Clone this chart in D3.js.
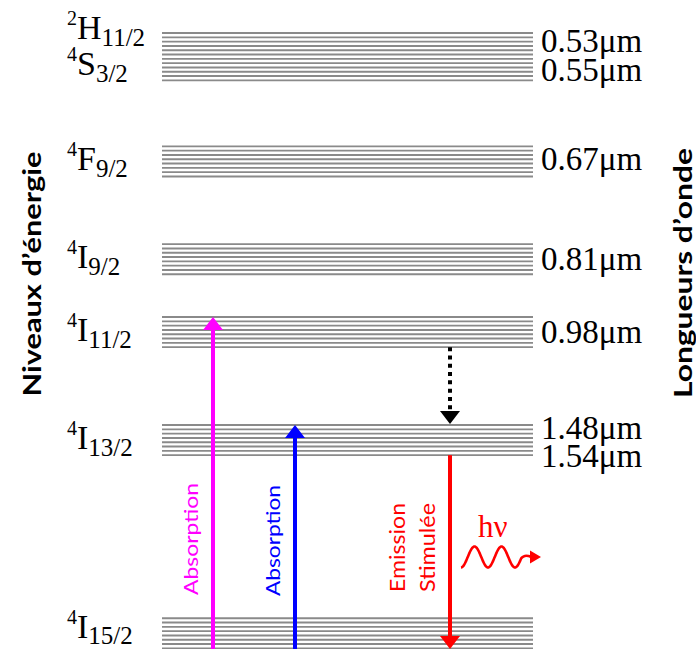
<!DOCTYPE html>
<html>
<head>
<meta charset="utf-8">
<script src="https://cdn.jsdelivr.net/npm/d3@7/dist/d3.min.js"></script>
<style>
  html, body { margin: 0; padding: 0; background: #fff; }
  svg { display: block; }
</style>
</head>
<body>
<svg id="chart" width="696" height="649"></svg>
<script>
// ---------------- DATA ----------------
// Energy levels of Er3+ (estimated energies in cm^-1)
const levelSup    = ["4", "4", "4", "4", "4", "4", "2"];
const levelTerm   = ["I", "I", "I", "I", "F", "S", "H"];
const levelJ      = ["15/2", "13/2", "11/2", "9/2", "9/2", "3/2", "11/2"];
const levelEnergy = [0, 6440, 10040, 12470, 15730, 18790, 19650];
const levelSublevels = [8, 8, 8, 8, 8, 6, 6];

// Wavelength labels (µm) and the level each one belongs to
const wavelengthText  = ["0.53μm", "0.55μm", "0.67μm", "0.81μm", "0.98μm", "1.48μm", "1.54μm"];
const wavelengthLevel = [6, 5, 4, 3, 2, 1, 1];
const wavelengthEdge  = ["center", "center", "center", "center", "center", "top", "bottom"];

// Transitions (level indices)
const transFrom   = [0, 0, 1, 2];
const transTo     = [2, 1, 0, 1];
const transLabels = [["Absorption"], ["Absorption"], ["Emission", "Stimulée"], []];
const transKind   = ["radiative", "radiative", "radiative", "nonradiative"];

const axisTitles = ["Niveaux d’énergie", "Longueurs d’onde"];
const photonLabel = "hν";

// ---------------- STYLE / LAYOUT ----------------
const W = 696, H = 649;
const bandX0 = 162, bandX1 = 533;
const subSpacing = 4.3;
const serif = "'Liberation Serif', 'Times New Roman', serif";
const sans = "Lato, 'Open Sans', sans-serif";
const transX = [213, 295, 450, 450];
const transColor = ["#ff00ff", "#0000ff", "#ff0000", "#000000"];
const transLabelCy = [539, 540.5, 547.5, 0];
const transLabelLen = [[112], [111], [89, 89]];
const transLabelSize = [19, 19, 21];
const levelLabelDy = {0: 5, 6: -4.5, 5: 5.5};
const wlLabelDy = {0: 8, 1: 11.5, 2: 8.5, 3: 11, 4: 11, 5: 13.5, 6: 12};

const svg = d3.select("#chart");
svg.append("rect").attr("width", W).attr("height", H).attr("fill", "#fff");

const y = d3.scaleLinear().domain([0, 20000]).range([633.3, 33.3]);

function bandHalf(i) { return (levelSublevels[i] - 1) / 2 * subSpacing; }
function bandTop(i) { return y(levelEnergy[i]) - bandHalf(i); }
function bandBottom(i) { return y(levelEnergy[i]) + bandHalf(i); }

// ---------------- BANDS ----------------
const lines = [];
levelEnergy.forEach((e, i) => {
  for (let k = 0; k < levelSublevels[i]; k++) {
    lines.push(bandTop(i) + k * subSpacing);
  }
});
svg.append("g").selectAll("line").data(lines).join("line")
  .attr("x1", bandX0).attr("x2", bandX1)
  .attr("y1", d => d).attr("y2", d => d)
  .attr("stroke", "#8a8a8a").attr("stroke-width", 1.9);

// ---------------- LEVEL LABELS ----------------
const lbl = svg.append("g").attr("font-family", serif).attr("fill", "#000");
levelEnergy.forEach((e, i) => {
  const base = y(e) + (levelLabelDy[i] !== undefined ? levelLabelDy[i] : 9);
  const t = lbl.append("text").attr("x", 67).attr("y", base);
  t.append("tspan").attr("font-size", 20).attr("dy", -14).text(levelSup[i]);
  t.append("tspan").attr("font-size", 34).attr("dy", 14).text(levelTerm[i]);
  t.append("tspan").attr("font-size", 25).attr("dy", i === 0 ? 5.5 : 6.5).text(levelJ[i]);
});

// ---------------- WAVELENGTH LABELS ----------------
svg.append("g").selectAll("text").data(wavelengthText).join("text")
  .attr("x", 541)
  .attr("y", (d, j) => {
    const i = wavelengthLevel[j];
    const edge = wavelengthEdge[j];
    const ref = edge === "top" ? bandTop(i) : edge === "bottom" ? bandBottom(i) : y(levelEnergy[i]);
    return ref + wlLabelDy[j];
  })
  .attr("font-family", serif).attr("font-size", 33).attr("fill", "#000")
  .text(d => d);

// ---------------- TRANSITIONS ----------------
const headLen = 13, headHalf = 10;
const arrows = svg.append("g");
transFrom.forEach((f, j) => {
  const t = transTo[j];
  const up = levelEnergy[t] > levelEnergy[f];
  const x = transX[j];
  const col = transColor[j];
  let yStart, yTip;
  if (up) { yStart = Math.min(H, bandBottom(f) + 1); yTip = bandTop(t); }
  else { yStart = bandBottom(f); yTip = transKind[j] === "radiative" ? Math.min(H, bandBottom(t) + 1) : bandTop(t) - 1; }
  const dir = up ? -1 : 1;
  const yBase = yTip - dir * headLen;
  const shaft = arrows.append("line")
    .attr("x1", x).attr("x2", x).attr("y1", yStart).attr("y2", yBase + dir * 0.5)
    .attr("stroke", col).attr("stroke-width", 4);
  if (transKind[j] === "nonradiative") shaft.attr("stroke-dasharray", "4,4.3");
  arrows.append("path")
    .attr("d", d3.line()([[x, yTip], [x - headHalf, yBase], [x + headHalf, yBase]]) + "Z")
    .attr("fill", col);

  // rotated labels
  const labs = transLabels[j];
  labs.forEach((s, k) => {
    const bx = x - 15.5 - (labs.length - 1 - k) * 30;
    svg.append("text")
      .attr("transform", `translate(${bx},${transLabelCy[j]}) rotate(-90)`)
      .attr("text-anchor", "middle")
      .attr("font-family", sans).attr("font-size", transLabelSize[j])
      .attr("fill", col)
      .attr("textLength", transLabelLen[j][k]).attr("lengthAdjust", "spacingAndGlyphs")
      .text(s);
  });
});

// ---------------- PHOTON ----------------
const pX0 = 461, pCy = 557, pAmp = 10.5, pPeriod = 27, pCycles = 2.25;
const wavePts = d3.range(0, pCycles * pPeriod + 0.01, 0.5).map(dx =>
  [pX0 + dx, pCy + pAmp * Math.cos(2 * Math.PI * dx / pPeriod)]);
const endX = pX0 + pCycles * pPeriod;
wavePts.push([endX + 3, pCy - 1.5], [endX + 7, pCy - 1], [531, pCy]);
svg.append("path")
  .attr("d", d3.line().curve(d3.curveBasis)(wavePts))
  .attr("fill", "none").attr("stroke", "#ff0000").attr("stroke-width", 2.6);
svg.append("path")
  .attr("d", d3.line()([[541, pCy], [530, pCy - 6.5], [530, pCy + 6.5]]) + "Z")
  .attr("fill", "#ff0000");
svg.append("text").attr("x", 478).attr("y", 537)
  .attr("font-family", serif).attr("font-size", 31).attr("fill", "#ff0000")
  .text(photonLabel);

// ---------------- AXIS TITLES ----------------
svg.append("text")
  .attr("transform", "translate(41,274) rotate(-90)")
  .attr("text-anchor", "middle")
  .attr("font-family", sans).attr("font-weight", "bold").attr("font-size", 25)
  .attr("textLength", 245).attr("lengthAdjust", "spacingAndGlyphs")
  .text(axisTitles[0]);
svg.append("text")
  .attr("transform", "translate(692,273) rotate(-90)")
  .attr("text-anchor", "middle")
  .attr("font-family", sans).attr("font-weight", "bold").attr("font-size", 25)
  .attr("textLength", 250).attr("lengthAdjust", "spacingAndGlyphs")
  .text(axisTitles[1]);
</script>
</body>
</html>
